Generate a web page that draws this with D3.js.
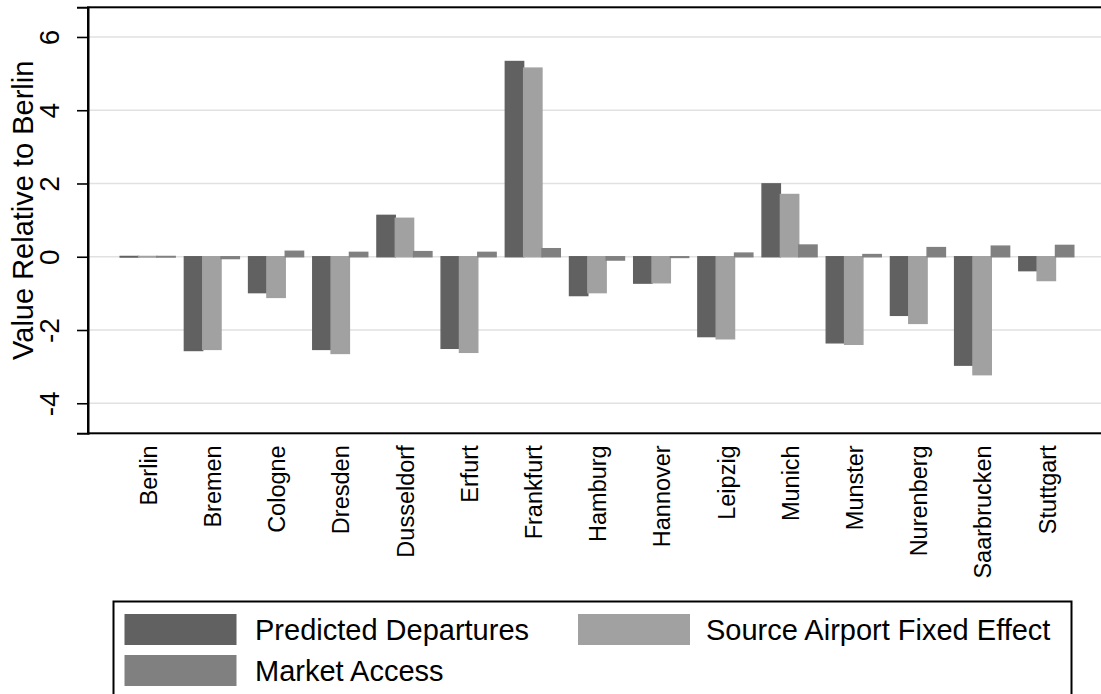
<!DOCTYPE html>
<html>
<head>
<meta charset="utf-8">
<script src="https://cdn.jsdelivr.net/npm/d3@7"></script>
<style>
  html, body { margin: 0; padding: 0; background: #fff; }
  svg { display: block; font-family: "Liberation Sans", Arial, Helvetica, sans-serif; }
</style>
</head>
<body>
<svg id="chart" width="1101" height="694"></svg>
<script>
// Cities, in display order
const cities = ["Berlin", "Bremen", "Cologne", "Dresden", "Dusseldorf", "Erfurt", "Frankfurt",
  "Hamburg", "Hannover", "Leipzig", "Munich", "Munster", "Nurenberg", "Saarbrucken", "Stuttgart"];

// Series values, relative to Berlin
const predictedDepartures = [0, -2.56, -0.98, -2.53, 1.13, -2.50, 5.33, -1.06, -0.72, -2.18, 1.99, -2.35, -1.60, -2.96, -0.38];
const sourceAirportFE     = [0, -2.53, -1.11, -2.64, 1.05, -2.61, 5.15, -0.98, -0.71, -2.24, 1.70, -2.39, -1.82, -3.22, -0.65];
const marketAccess        = [0, -0.05, 0.15, 0.12, 0.14, 0.12, 0.22, -0.09, -0.02, 0.10, 0.32, 0.06, 0.25, 0.29, 0.31];

const seriesNames = ["Predicted Departures", "Source Airport Fixed Effect", "Market Access"];
const seriesColors = ["#616161", "#a1a1a1", "#808080"];
const yTicks = [-4, -2, 0, 2, 4, 6];
const yTickLabels = ["-4", "-2", "0", "2", "4", "6"];

const series = [predictedDepartures, sourceAirportFE, marketAccess];

const svg = d3.select("#chart");

const plot = { left: 88, right: 1106, top: 7.3, bottom: 433.3 };

const x0 = d3.scaleBand()
  .domain(cities)
  .range([plot.left, plot.right])
  .paddingInner(0)
  .paddingOuter(0.43);

const x1 = d3.scaleBand()
  .domain(d3.range(series.length))
  .range([0, x0.bandwidth()])
  .paddingInner(0)
  .paddingOuter(0.25);

const y = d3.scaleLinear()
  .domain([-4.82, 6.81])
  .range([plot.bottom, plot.top]);

// Gridlines
svg.append("g")
  .selectAll("line")
  .data(yTicks)
  .join("line")
  .attr("x1", plot.left)
  .attr("x2", plot.right)
  .attr("y1", d => y(d))
  .attr("y2", d => y(d))
  .attr("stroke", "#e1e1e1")
  .attr("stroke-width", 1.6);

// Bars (a zero value still shows as a thin outline)
const groups = svg.append("g")
  .selectAll("g")
  .data(cities)
  .join("g")
  .attr("transform", d => `translate(${x0(d)},0)`);

groups.selectAll("rect")
  .data((c, i) => series.map((s, k) => ({ k, v: s[i] })))
  .join("rect")
  .attr("x", d => x1(d.k))
  .attr("width", x1.bandwidth())
  .attr("y", d => {
    const h = Math.abs(y(d.v) - y(0));
    return h < 0.6 ? y(0) - 0.3 : y(Math.max(0, d.v));
  })
  .attr("height", d => Math.max(0.6, Math.abs(y(d.v) - y(0))))
  .attr("fill", d => seriesColors[d.k])
  .attr("stroke", d => seriesColors[d.k])
  .attr("stroke-width", 1.4);

// Plot region frame
svg.append("rect")
  .attr("x", plot.left)
  .attr("y", plot.top)
  .attr("width", plot.right - plot.left)
  .attr("height", plot.bottom - plot.top)
  .attr("fill", "none")
  .attr("stroke", "#000")
  .attr("stroke-width", 2);

// Y axis
const yAxis = svg.append("g")
  .attr("transform", `translate(${plot.left},0)`)
  .call(d3.axisLeft(y)
    .tickValues(yTicks)
    .tickSize(11)
    .tickPadding(0)
    .tickFormat((d, i) => yTickLabels[i]));
yAxis.select(".domain").attr("stroke", "#000").attr("stroke-width", 2);
yAxis.selectAll(".tick line").attr("stroke", "#000").attr("stroke-width", 1.6);
yAxis.selectAll(".tick text")
  .attr("font-size", 28)
  .attr("fill", "#000")
  .attr("text-anchor", "middle")
  .attr("x", 0)
  .attr("y", 0)
  .attr("dy", "0.35em")
  .attr("transform", "translate(-39,0) rotate(-90)")
  .style("font-family", "'Liberation Sans', Arial, sans-serif");

// Y axis title
svg.append("text")
  .attr("transform", `translate(23,${(plot.top + plot.bottom) / 2 - 10}) rotate(-90)`)
  .attr("text-anchor", "middle")
  .attr("dy", "0.35em")
  .attr("font-size", 29)
  .text("Value Relative to Berlin");

// X category labels
svg.append("g")
  .selectAll("text")
  .data(cities)
  .join("text")
  .attr("transform", d => `translate(${x0(d) + x0.bandwidth() / 2 + 1},${plot.bottom + 12}) rotate(-90)`)
  .attr("text-anchor", "end")
  .attr("dy", "0.35em")
  .attr("font-size", 23.5)
  .text(d => d);

// Legend
const legend = svg.append("g");
legend.append("rect")
  .attr("x", 113.5)
  .attr("y", 601.5)
  .attr("width", 958)
  .attr("height", 100)
  .attr("fill", "#fff")
  .attr("stroke", "#000")
  .attr("stroke-width", 2);

const legendPos = [
  { sx: 124.5, sy: 614, tx: 255 },
  { sx: 578, sy: 614, tx: 706 },
  { sx: 124.5, sy: 655, tx: 255 }
];
seriesNames.forEach((name, k) => {
  const p = legendPos[k];
  legend.append("rect")
    .attr("x", p.sx).attr("y", p.sy)
    .attr("width", 112).attr("height", 31)
    .attr("fill", seriesColors[k]);
  legend.append("text")
    .attr("x", p.tx).attr("y", p.sy + 15.5)
    .attr("dy", "0.35em")
    .attr("font-size", 29)
    .text(name);
});
</script>
</body>
</html>
